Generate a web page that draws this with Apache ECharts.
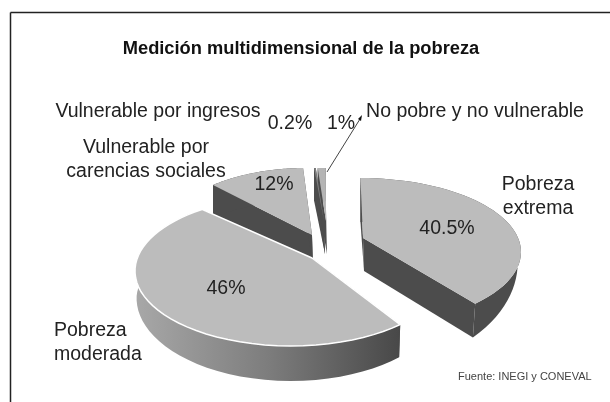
<!DOCTYPE html>
<html>
<head>
<meta charset="utf-8">
<style>
  html, body { margin: 0; padding: 0; background: #fff; }
  #chart { width: 610px; height: 402px; }
</style>
<script src="https://cdn.jsdelivr.net/npm/echarts@6/dist/echarts.min.js"></script>
</head>
<body>
<div id="chart"></div>
<script>
// data, clockwise from the top
const categories = ['Pobreza\nextrema', 'Pobreza\nmoderada', 'Vulnerable por\ncarencias sociales', 'Vulnerable por ingresos', 'No pobre y no vulnerable'];
const shares = [40.5, 46, 12, 0.2, 1];
const shareLabels = ['40.5%', '46%', '12%', '0.2%', '1%'];

// page layout of each slice: apex, top ellipse, wall depth, angle nudge (the 3D look of the original)
const sliceLayout = [
  { apex: [363, 238], ell: [360, 252, 161, 74], tilt: 0.413, apexDepth: 33, depth: 44, side: 10, shrink: 0.98, nudge: -1, z: 2 },
  { apex: [312, 258], ell: [291, 271, 156, 75], tilt: 0.413, apexDepth: 35, depth: 35, side: 27, shrink: 0.99, nudge: 5.5, z: 5 },
  { apex: [312, 235], ell: [305, 250, 151, 82], tilt: 0.55, apexDepth: 33, depth: 33, side: 30, shrink: 1, nudge: 1.2, z: 3 },
  { apex: [324, 221], ell: [320, 250, 151, 82], tilt: 0.413, apexDepth: 33, depth: 33, side: 30, shrink: 1, nudge: 1, z: 4 },
  { apex: [326, 221], ell: [322, 250, 151, 82], tilt: 0.413, apexDepth: 33, depth: 33, side: 30, shrink: 1, nudge: 1, z: 4 }
];
const labelLayout = [
  { name: [538, 197], pct: [447, 229], align: 'center' },
  { name: [54, 343], pct: [226, 289], align: 'left' },
  { name: [146, 160], pct: [274, 185], align: 'center' },
  { name: [158, 112], pct: [290, 124], align: 'center' },
  { name: [475, 112], pct: [341, 124], align: 'center' }
];

const START_ANGLE = -90;
const TOP_COLOR = ['#bcbcbc', '#bcbcbc', '#bcbcbc', '#7d7d7d', '#b4b4b4'];
const FONT = '"Liberation Sans", Arial, sans-serif';

// where the ray from the apex at disc angle deg leaves the top ellipse
function rim(l, deg) {
  const a = deg * Math.PI / 180;
  const dx = Math.cos(a), dy = l.tilt * Math.sin(a);
  const ox = l.apex[0] - l.ell[0], oy = l.apex[1] - l.ell[1];
  const rx = l.ell[2], ry = l.ell[3];
  const A = dx * dx / (rx * rx) + dy * dy / (ry * ry);
  const B = 2 * (ox * dx / (rx * rx) + oy * dy / (ry * ry));
  const C = ox * ox / (rx * rx) + oy * oy / (ry * ry) - 1;
  const t = (-B + Math.sqrt(B * B - 4 * A * C)) / (2 * A);
  return [l.apex[0] + t * dx, l.apex[1] + t * dy];
}

// matching point on the lower edge of the wall
function under(l, p) {
  const s = Math.min(1, Math.abs(p[1] - l.ell[1]) / l.ell[3]);
  return [l.ell[0] + (p[0] - l.ell[0]) * l.shrink, p[1] + l.side + (l.depth - l.side) * s];
}

function renderSlice(params, api) {
  const i = params.dataIndex;
  const l = sliceLayout[i];
  let before = 0;
  for (let k = 0; k < i; k++) before += shares[k];
  const from = START_ANGLE + before * 3.6 + l.nudge;
  const sweep = api.value(1) * 3.6;

  const arc = [];
  const steps = 48;
  for (let s = 0; s <= steps; s++) arc.push(rim(l, from + sweep * s / steps));
  const lower = arc.map(function (p) { return under(l, p); }).reverse();
  const a0 = arc[0], a1 = arc[steps];
  const apexLow = [l.apex[0] + 1, l.apex[1] + l.apexDepth];

  const wallFill = i === 1
    ? new echarts.graphic.LinearGradient(0, 0, 1, 0, [
        { offset: 0, color: '#a8a8a8' },
        { offset: 0.5, color: '#7d7d7d' },
        { offset: 1, color: '#484848' }
      ])
    : '#4c4c4c';

  const faces = [
    { type: 'polygon', z2: l.z, shape: { points: [l.apex, a0, under(l, a0), apexLow] }, style: { fill: '#4c4c4c' } },
    { type: 'polygon', z2: l.z, shape: { points: [l.apex, a1, under(l, a1), apexLow] }, style: { fill: '#4c4c4c' } },
    { type: 'polygon', z2: l.z, shape: { points: arc.concat(lower) }, style: { fill: wallFill } },
    {
      type: 'polygon', z2: l.z + 0.5,
      shape: { points: [l.apex].concat(arc) },
      style: { fill: TOP_COLOR[i], stroke: i === 1 ? '#fff' : null, lineWidth: i === 1 ? 1.5 : 0 }
    }
  ];
  return { type: 'group', children: faces };
}

function labelText(pos, text, align) {
  return {
    type: 'text', x: pos[0], y: pos[1], z: 20,
    style: {
      text: text, x: 0, y: 0, align: align, verticalAlign: 'middle',
      font: '19.5px ' + FONT, lineHeight: 24, fill: '#222'
    }
  };
}

const textElements = [];
categories.forEach(function (name, i) {
  textElements.push(labelText(labelLayout[i].name, name, labelLayout[i].align));
  textElements.push(labelText(labelLayout[i].pct, shareLabels[i], 'center'));
});

const chart = echarts.init(document.getElementById('chart'));
chart.setOption({
  animation: false,
  backgroundColor: '#fff',
  title: {
    text: 'Medición multidimensional de la pobreza',
    left: 296, top: 35, textAlign: 'center',
    textStyle: { fontFamily: FONT, fontSize: 18.3, fontWeight: 'bold', color: '#111' }
  },
  series: [{
    type: 'custom',
    coordinateSystem: 'none',
    renderItem: renderSlice,
    data: shares.map(function (v, i) { return [i, v]; }),
    silent: true
  }],
  graphic: textElements.concat([
    { type: 'line', z: 20, shape: { x1: 10.5, y1: 12.5, x2: 610, y2: 12.5 }, style: { stroke: '#222', lineWidth: 1.5 } },
    { type: 'line', z: 20, shape: { x1: 10.5, y1: 12.5, x2: 10.5, y2: 402 }, style: { stroke: '#222', lineWidth: 1.5 } },
    { type: 'line', z: 20, shape: { x1: 327, y1: 172, x2: 360, y2: 119 }, style: { stroke: '#444', lineWidth: 1 } },
    { type: 'polygon', z: 20, shape: { points: [[362, 115], [358, 119], [361, 121]] }, style: { fill: '#111' } },
    {
      type: 'text', x: 458, y: 377, z: 20,
      style: { text: 'Fuente: INEGI y CONEVAL', x: 0, y: 0, verticalAlign: 'middle', font: '11px ' + FONT, fill: '#444' }
    }
  ])
});
</script>
</body>
</html>
